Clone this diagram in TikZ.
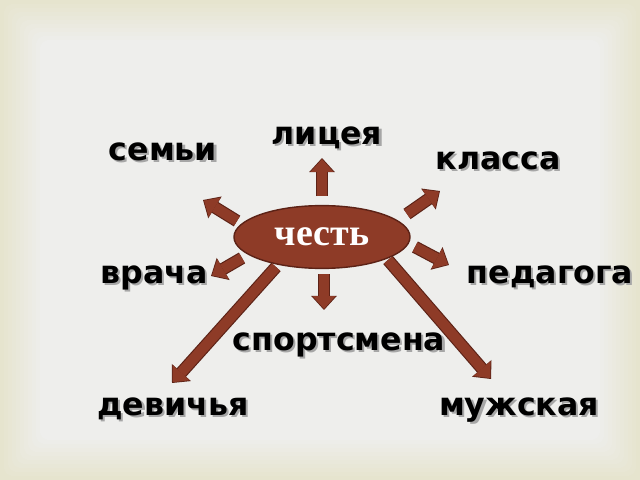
\documentclass[tikz,border=0pt]{standalone}
\usepackage{fontspec}
\setmainfont{DejaVu Sans}
\newfontfamily\honourfont{Liberation Serif}
\usetikzlibrary{positioning,shapes.geometric,arrows.meta}
\definecolor{paper}{HTML}{EEEEEC}
\definecolor{paperedge}{HTML}{E6E4CE}
\definecolor{honour}{HTML}{8E3B27}
\definecolor{honouredge}{HTML}{5C2216}
\newcommand{\shadowed}[1]{\makebox[0pt][l]{\hspace{1.5pt}\raisebox{-1.5pt}{\textcolor{black!35}{#1}}}#1}

\begin{document}
\begin{tikzpicture}[x=0.025cm, y=-0.025cm,
      word/.style={font=\bfseries\fontsize{22.5}{27}\selectfont, inner sep=0pt, anchor=base},
      core/.style={ellipse, fill=honour, draw=honouredge, line width=1pt, minimum width=4.4cm, minimum height=1.57cm, text=white, font=\honourfont\bfseries\fontsize{27}{30}\selectfont},
      rayedge/.style={line width=8.9pt, draw=honouredge, -{Triangle[width=18pt,length=10pt,line width=1.1pt]}},
      rayfill/.style={line width=7.3pt, draw=honour, shorten >=0.8pt, -{Triangle[width=16.2pt,length=9pt,line width=0pt]}}
      ]
      % paper with soft edges
      \useasboundingbox (0,0) rectangle (640,480);
      \fill[paperedge] (0,0) rectangle (640,480);
      \foreach \i in {1,...,10}
        \fill[paper!\the\numexpr10*\i\relax!paperedge, rounded corners=6pt] (4*\i,4*\i) rectangle (640-4*\i,480-4*\i);

      \node[core] (honour) at (322,237) {честь};

      \node[word] (lyceum) at (327,144) {\shadowed{лицея}};
      \node[word] (family) at (163,160) {\shadowed{семьи}};
      \node[word] (class) at (498,169) {\shadowed{класса}};
      \node[word] (doctor) at (154,283) {\shadowed{врача}};
      \node[word] (teacher) at (550,283) {\shadowed{педагога}};
      \node[word] (sportsman) at (339,350) {\shadowed{спортсмена}};
      \node[word] (maiden) at (173,415) {\shadowed{девичья}};
      \node[word] (male) at (519,415) {\shadowed{мужская}};

      % arrow ends
      \coordinate (lyceumA) at (322,196);   \coordinate (lyceumB) at (322,158);
      \coordinate (familyA) at (237,221);   \coordinate (familyB) at (203,200);
      \coordinate (classA) at (407,214);    \coordinate (classB) at (440,191);
      \coordinate (teacherA) at (415,247);  \coordinate (teacherB) at (449,265);
      \coordinate (doctorA) at (242,258);   \coordinate (doctorB) at (211,276);
      \coordinate (sportA) at (324,274);    \coordinate (sportB) at (324,310);
      \coordinate (maidenA) at (276,267);   \coordinate (maidenB) at (172,383);
      \coordinate (maleA) at (388,260);     \coordinate (maleB) at (491,379);

      \foreach \ray in {lyceum,family,class,teacher,doctor,sport,maiden,male} {
        \draw[rayedge] (\ray A) -- (\ray B);
        \draw[rayfill] (\ray A) -- (\ray B);
      }
    \end{tikzpicture}
\end{document}
